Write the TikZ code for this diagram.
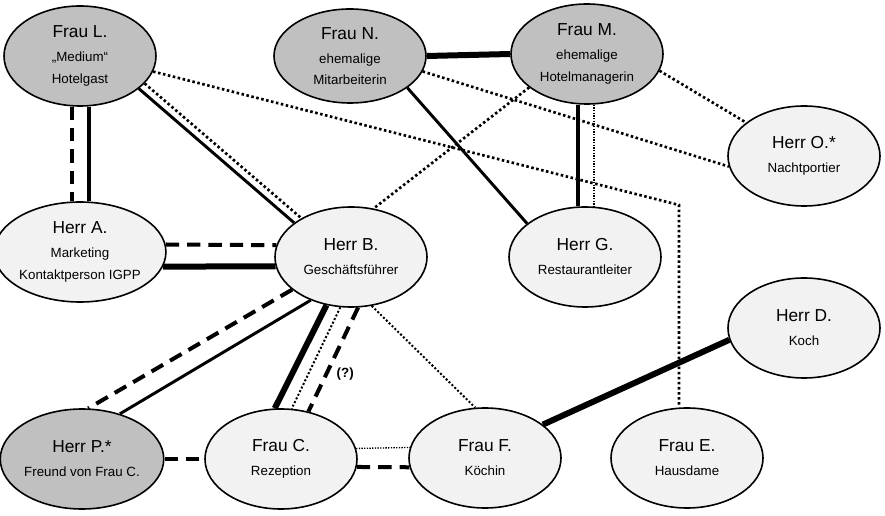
\documentclass[tikz,border=0pt]{standalone}
\usepackage{fontspec}
\setmainfont{Liberation Sans}
\usetikzlibrary{shapes.geometric}
\definecolor{grayfill}{RGB}{192,192,192}
\definecolor{lightfill}{RGB}{242,242,242}
\newcommand{\person}[2]{{\fontsize{13}{15}\selectfont #1}\\[2pt]#2}

\begin{document}
\begin{tikzpicture}[x=0.75pt,y=-0.75pt,
person/.style={ellipse,draw,line width=1.2pt,fill=lightfill,minimum width=114pt,minimum height=75pt,inner sep=0pt,align=center,font=\fontsize{10}{16}\selectfont},
former/.style={person,fill=grayfill},
solid link/.style={line width=2.2pt},
strong link/.style={line width=3pt},
heavy link/.style={line width=4.5pt},
dashed link/.style={line width=3pt,dash pattern=on 10pt off 6pt},
dotted link/.style={line width=2pt,dash pattern=on 1.9pt off 1.9pt},
light link/.style={line width=1.5pt,dash pattern=on 1.5pt off 1.5pt},
fine link/.style={line width=1pt,dash pattern=on 1pt off 1pt}]
\useasboundingbox (0,0) rectangle (885,516);
% The persons
\node[former] (L) at (80,56) {\person{Frau L.}{„Medium“\\Hotelgast}};
\node[former,minimum height=70.5pt] (N) at (350,56) {\person{Frau N.}{ehemalige\\Mitarbeiterin}};
\node[former] (M) at (587,54) {\person{Frau M.}{ehemalige\\Hotelmanagerin}};
\node[person] (O) at (804,156) {\person{Herr O.*}{Nachtportier}};
\node[person] (A) at (80,252) {\person{Herr A.}{Marketing\\Kontaktperson IGPP}};
\node[person] (B) at (351,257) {\person{Herr B.}{Geschäftsführer}};
\node[person] (G) at (585,257) {\person{Herr G.}{Restaurantleiter}};
\node[person] (D) at (804,328) {\person{Herr D.}{Koch}};
\node[former] (P) at (82,459) {\person{Herr P.*}{Freund von Frau C.}};
\node[person] (C) at (281,459) {\person{Frau C.}{Rezeption}};
\node[person] (F) at (485,458) {\person{Frau F.}{Köchin}};
\node[person] (E) at (687,458) {\person{Frau E.}{Hausdame}};

% Frau L.
\draw[dashed link] ([xshift=-6pt]L.south) -- ([xshift=-6pt]A.north);
\draw[strong link] ([xshift=6.75pt]L.south) -- ([xshift=6.75pt]A.north);
\draw[solid link] (L.-29) -- (B.149);
\draw[dotted link] (L.-23) -- (B.142);
\coordinate (bendE) at (679,205);
\draw[dotted link] (L.-12.5) -- (bendE) -- (bendE |- E.north);

% Frau N. and Frau M.
\draw[heavy link] (N.east) -- (M.west);
\draw[dotted link] (N.-12) -- (O.-172);
\draw[solid link] (N.-29) -- (G.150);
\draw[strong link] ([xshift=-6.75pt]M.south) -- ([xshift=-5.25pt]G.north);
\draw[fine link] ([xshift=5.25pt]M.south) -- ([xshift=6.75pt]G.north);
\draw[dotted link] (M.-150) -- (B.65);
\draw[dotted link] (M.-13.5) -- (O.150);

% Herr A. and Herr B.
\draw[dashed link] (A.5) -- (B.171);
\draw[heavy link] (A.-10.6) -- (B.-173);
\draw[dashed link] (B.-151) -- (P.83);
\draw[solid link] (B.-133) -- (P.50);
\draw[heavy link] (B.-117) -- (C.97);
\draw[light link] (B.-102) -- (C.78);
\draw[dashed link] (B.-82) -- (C.60) node[pos=0.64,right=3pt,font=\bfseries\fontsize{10}{12}\selectfont] (unsure) {(?)};
\draw[light link] (B.-67) -- (F.101);

% The bottom row
\draw[dashed link] (P.east) -- (C.west);
\draw[fine link] (C.8) -- (F.172.5);
\draw[dashed link] (C.-6) -- (F.187);
\draw[heavy link] (F.30) -- (D.-171);
\end{tikzpicture}
\end{document}
